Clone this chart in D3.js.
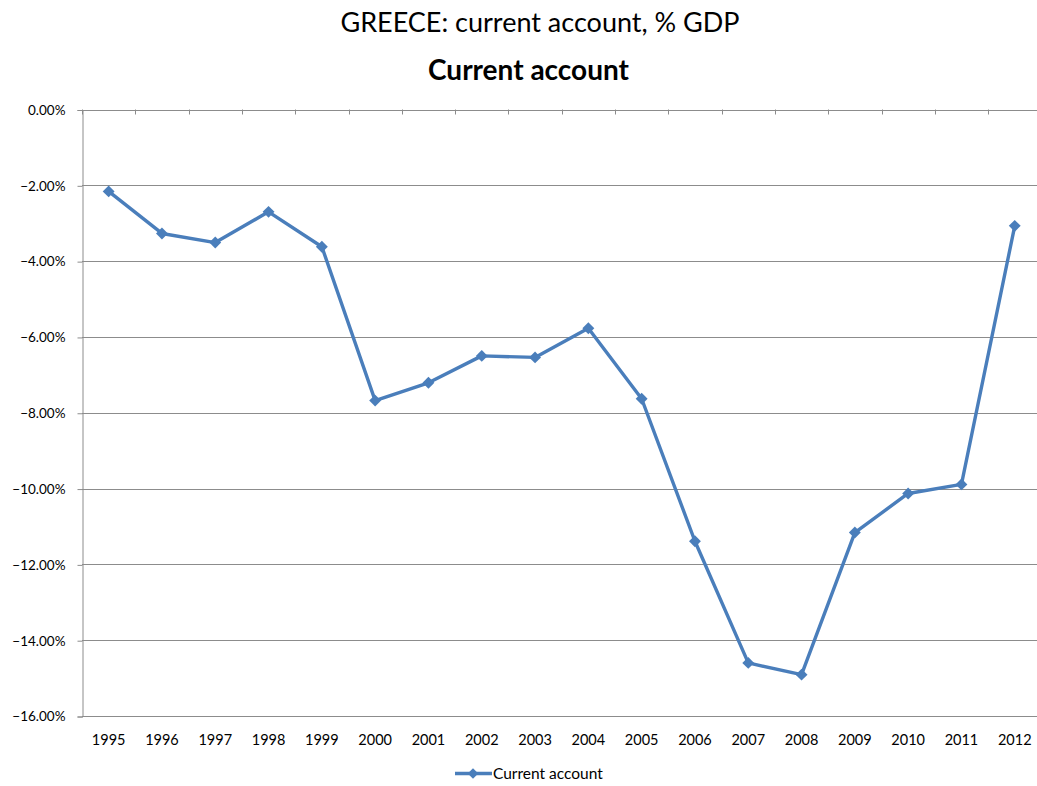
<!DOCTYPE html>
<html>
<head>
<meta charset="utf-8">
<script src="https://cdn.jsdelivr.net/npm/d3@7"></script>
<style>
  html, body { margin: 0; padding: 0; background: #fff; }
  svg { display: block; font-family: Lato, "Open Sans", sans-serif; }
</style>
</head>
<body>
<svg id="chart" width="1037" height="786"></svg>
<script>
// Greece current account balance, % of GDP
const years = ["1995","1996","1997","1998","1999","2000","2001","2002","2003","2004",
               "2005","2006","2007","2008","2009","2010","2011","2012"];
const currentAccount = [-2.16, -3.27, -3.51, -2.70, -3.62, -7.68, -7.21, -6.50, -6.54, -5.77,
                        -7.63, -11.39, -14.60, -14.91, -11.16, -10.13, -9.89, -3.07];
const yTicks = [0, -2, -4, -6, -8, -10, -12, -14, -16];
const seriesName = "Current account";
const chartTitle = "GREECE: current account, % GDP";

(function draw() {
  const svg = d3.select("#chart");
  const plotLeft = 82, plotRight = 1041.4, plotTop = 109.5, plotBottom = 716;
  const blue = "#4a7ebb", grid = "#8c8c8c";

  const x = d3.scaleBand().domain(years).range([plotLeft, plotRight]).paddingInner(0).paddingOuter(0);
  const y = d3.scaleLinear().domain([-16, 0]).range([plotBottom, plotTop]);

  // titles
  svg.append("text").attr("x", 540).attr("y", 32).attr("text-anchor", "middle")
    .attr("font-size", 27).attr("fill", "#000").text(chartTitle);
  svg.append("text").attr("x", 528.5).attr("y", 80).attr("text-anchor", "middle")
    .attr("font-size", 28).attr("font-weight", "bold").attr("fill", "#000").text(seriesName);

  // horizontal gridlines
  svg.append("g").selectAll("line").data(yTicks).join("line")
    .attr("x1", plotLeft).attr("x2", plotRight)
    .attr("y1", d => Math.round(y(d)) + 0.5).attr("y2", d => Math.round(y(d)) + 0.5)
    .attr("stroke", grid).attr("stroke-width", 1);

  // y axis
  const yAxis = d3.axisLeft(y).tickValues(yTicks).tickSize(5).tickPadding(12)
    .tickFormat(d => d3.format(".2f")(d) + "%");
  const gy = svg.append("g").attr("transform", `translate(${plotLeft + 0.5},0.5)`).call(yAxis);
  gy.select(".domain").attr("stroke", grid);
  gy.selectAll(".tick line").attr("stroke", grid);
  gy.selectAll(".tick text").attr("font-size", 13.5).attr("fill", "#000")
    .attr("font-family", "Lato, sans-serif");

  // category tick marks on the zero line
  const boundaries = years.map(d => x(d)).concat([plotRight]);
  svg.append("g").selectAll("line").data(boundaries).join("line")
    .attr("x1", d => Math.round(d) + 0.5).attr("x2", d => Math.round(d) + 0.5)
    .attr("y1", y(0)).attr("y2", y(0) + 5)
    .attr("stroke", grid);

  // year labels along the bottom
  svg.append("g").selectAll("text").data(years).join("text")
    .attr("x", d => x(d) + x.bandwidth() / 2).attr("y", 745)
    .attr("text-anchor", "middle").attr("font-size", 14.5).attr("fill", "#000")
    .text(d => d);

  // series line
  const cx = (d, i) => x(years[i]) + x.bandwidth() / 2;
  const line = d3.line().x(cx).y(d => y(d));
  svg.append("path").datum(currentAccount)
    .attr("d", line).attr("fill", "none").attr("stroke", blue)
    .attr("stroke-width", 3.4).attr("stroke-linejoin", "round");

  // diamond markers
  const diamond = d3.symbol().type(d3.symbolDiamond2).size(90);
  svg.append("g").selectAll("path").data(currentAccount).join("path")
    .attr("d", diamond)
    .attr("transform", (d, i) => `translate(${cx(d, i)},${y(d)})`)
    .attr("fill", blue);

  // legend
  const lg = svg.append("g");
  lg.append("line").attr("x1", 455).attr("x2", 492).attr("y1", 773.5).attr("y2", 773.5)
    .attr("stroke", blue).attr("stroke-width", 3.4);
  lg.append("path").attr("d", d3.symbol().type(d3.symbolDiamond2).size(70))
    .attr("transform", "translate(473,773.5)").attr("fill", blue);
  lg.append("text").attr("x", 493).attr("y", 779).attr("font-size", 15.5).attr("fill", "#000")
    .text(seriesName);
})();
</script>
</body>
</html>
